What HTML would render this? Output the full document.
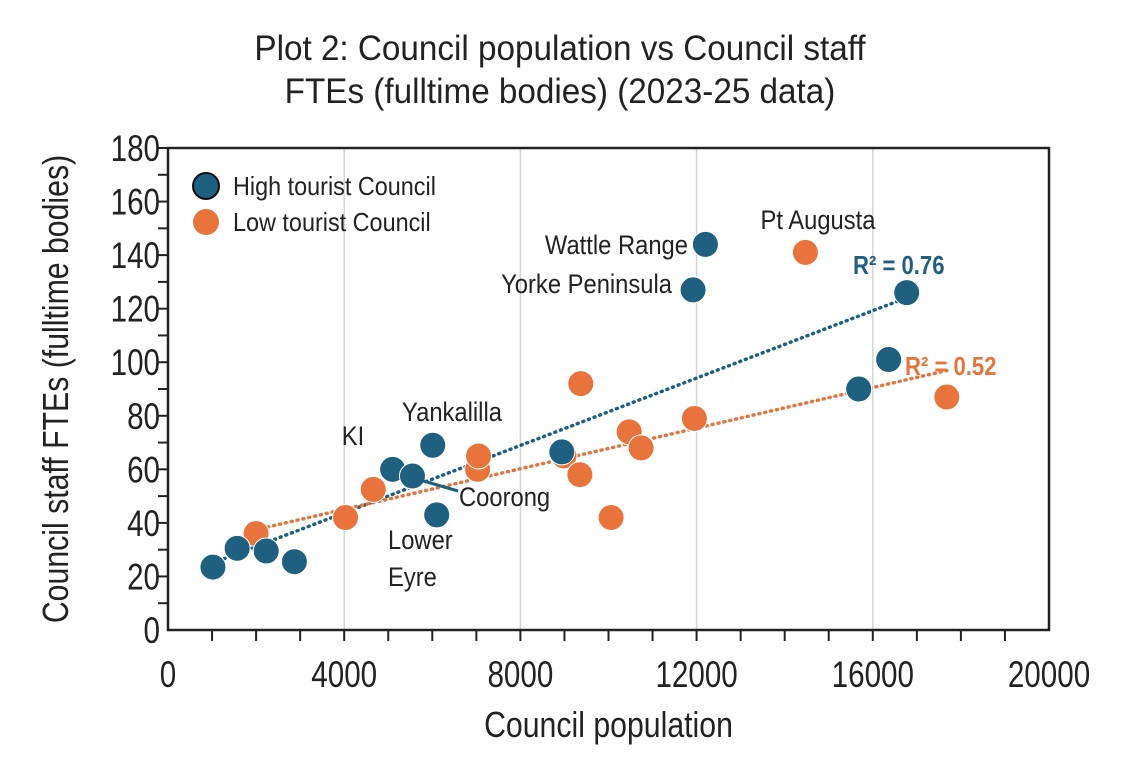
<!DOCTYPE html>
<html><head><meta charset="utf-8"><style>
html,body{margin:0;padding:0;background:#fff;}
svg{display:block;font-family:"Liberation Sans",sans-serif;}
</style></head><body>
<svg id="chart" width="1122" height="779" viewBox="0 0 1122 779">
<text x="560" y="60" text-anchor="middle" font-size="35" fill="#222" data-sx="0.95">Plot 2: Council population vs Council staff</text>
<text x="560" y="103" text-anchor="middle" font-size="35" fill="#222" data-sx="0.95">FTEs (fulltime bodies) (2023-25 data)</text>
<g id="grid"></g><g id="axes"></g><g id="trend"></g><g id="pts"></g>
<g id="ann" font-size="27" fill="#222">
<text x="688" y="254" text-anchor="end" data-sx="0.88">Wattle Range</text>
<text x="672" y="293" text-anchor="end" data-sx="0.88">Yorke Peninsula</text>
<text x="818" y="229" text-anchor="middle" data-sx="0.88">Pt Augusta</text>
<text x="452" y="421" text-anchor="middle" data-sx="0.88">Yankalilla</text>
<text x="353" y="445" text-anchor="middle" data-sx="0.88">KI</text>
<text x="459" y="506" data-sx="0.88">Coorong</text>
<line x1="410" y1="477" x2="458" y2="491" stroke="#1f5f7f" stroke-width="3"/>
<text x="388" y="549" data-sx="0.88">Lower</text>
<text x="388" y="586" data-sx="0.88">Eyre</text>
<text x="853" y="274" font-size="26" font-weight="bold" fill="#1f5f7f" data-sx="0.85">R² = 0.76</text>
<text x="905" y="375" font-size="26" font-weight="bold" fill="#e8743b" data-sx="0.85">R² = 0.52</text>
</g>
<g id="legend" font-size="26" fill="#222">
<circle cx="206" cy="186" r="13" fill="#1f5f7f" stroke="#111" stroke-width="2"/>
<text x="233" y="195" data-sx="0.9">High tourist Council</text>
<circle cx="206" cy="222" r="13" fill="#e8743b"/>
<text x="233" y="231" data-sx="0.9">Low tourist Council</text>
</g>
</svg>
<script>
const xTicks=[0,4000,8000,12000,16000,20000];
const yTicks=[0,20,40,60,80,100,120,140,160,180];
const highX=[1020,1570,2230,2870,5100,5550,6010,6100,8940,11920,12200,15680,16360,16770];
const highY=[23.5,30.5,29.5,25.5,60,57.5,69,43,66.5,127,144,90,101,126];
const lowX=[2000,4030,4660,7030,7050,8990,9370,9350,10060,10470,10740,11950,14470,17680];
const lowY=[36,42,52.5,60,65,65,92,58,42,74,68,79,141,87];
// trendline [intercept, slope] as shown in the chart
const highTrend=[18.6,0.00629];
const lowTrend=[29.9,0.00379];
const BLUE='#1f5f7f',ORANGE='#e8743b';
const L=168,R=1049,T=148,B=630;
const sx=v=>L+(v/20000)*(R-L), sy=v=>B-(v/180)*(B-T);
const NS='http://www.w3.org/2000/svg';
function mk(tag,attrs,parent){const e=document.createElementNS(NS,tag);for(const k in attrs)e.setAttribute(k,attrs[k]);document.getElementById(parent).appendChild(e);return e;}
xTicks.forEach(t=>{
 if(t>0&&t<20000){const g=mk('line',{x1:sx(t),x2:sx(t),y1:T,y2:B,stroke:'#d4d4d4','stroke-width':1.5},'grid');
 
 }
 const tx=mk('text',{x:sx(t),y:687,'text-anchor':'middle','font-size':37,fill:'#222','data-sx':0.8},'axes');tx.textContent=t;
 
 
});
for(let v=1000;v<20000;v+=1000){const m=mk('line',{x1:sx(v),x2:sx(v),y1:B,y2:B+11,stroke:'#222','stroke-width':2},'axes');
 
 }
yTicks.forEach(t=>{const tx=mk('text',{x:L-8,y:sy(t)+13,'text-anchor':'end','font-size':37,fill:'#222','data-sx':0.8},'axes');tx.textContent=t;
 
 });
for(let v=10;v<=180;v+=10){const m=mk('line',{x1:L-10,x2:L,y1:sy(v),y2:sy(v),stroke:'#222','stroke-width':2},'axes');
 
 }
const frame=mk('rect',{x:L,y:T,width:R-L,height:B-T,fill:'none',stroke:'#222','stroke-width':2.5},'axes');


const xt=mk('text',{x:(L+R)/2,y:737,'text-anchor':'middle','font-size':36,fill:'#222','data-sx':0.84},'axes');xt.textContent='Council population';


const yt=mk('text',{x:0,y:0,'text-anchor':'middle','font-size':36,fill:'#222','data-sx':0.84,transform:`translate(68,${(T+B)/2}) rotate(-90)`},'axes');yt.textContent='Council staff FTEs (fulltime bodies)';


function trend(X,c,col,name){const x0=Math.min(...X),x1=Math.max(...X);
 const l=mk('line',{x1:sx(x0),y1:sy(c[0]+c[1]*x0),x2:sx(x1),y2:sy(c[0]+c[1]*x1),stroke:col,'stroke-width':3.5,'stroke-dasharray':'1 5','stroke-linecap':'round'},'trend');
 
 }
trend(highX,highTrend,BLUE,'trendline-high-tourist');
trend(lowX,lowTrend,ORANGE,'trendline-low-tourist');
lowX.forEach((v,i)=>{const c=mk('circle',{cx:sx(v),cy:sy(lowY[i]),r:13,fill:ORANGE,stroke:'#fff','stroke-width':1},'pts');
 
 });
highX.forEach((v,i)=>{const c=mk('circle',{cx:sx(v),cy:sy(highY[i]),r:13,fill:BLUE,stroke:'#fff','stroke-width':1},'pts');
 
 });
document.querySelectorAll('text[data-sx]').forEach(t=>{const w=t.getComputedTextLength();t.setAttribute('textLength',w*parseFloat(t.getAttribute('data-sx')));t.setAttribute('lengthAdjust','spacingAndGlyphs');});
</script>
</body></html>
